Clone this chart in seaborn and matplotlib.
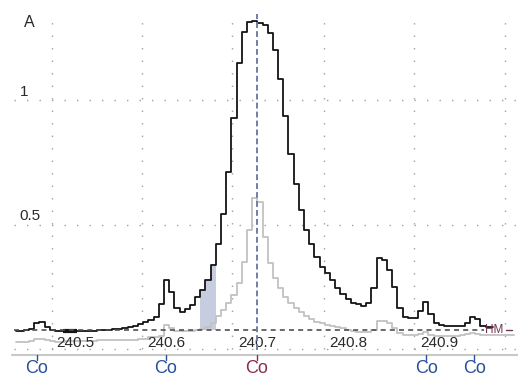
import numpy as np
import pandas as pd
import matplotlib
matplotlib.use("Agg")
import matplotlib.pyplot as plt
import seaborn as sns

# ---------------- data ----------------
wl_start = 240.4353      # centre of first detector pixel (nm)
wl_step = 0.0057         # pixel width (nm)

black_vals = [0.072, 0.072, 0.076, 0.080, 0.106, 0.108, 0.088, 0.076, 0.074, 0.074,
              0.074, 0.074, 0.072, 0.072, 0.072, 0.072, 0.076, 0.076, 0.078, 0.080,
              0.082, 0.084, 0.088, 0.092, 0.100, 0.108, 0.116, 0.129, 0.181, 0.277,
              0.229, 0.165, 0.149, 0.161, 0.177, 0.209, 0.237, 0.277, 0.337, 0.422,
              0.542, 0.711, 0.928, 1.149, 1.273, 1.313, 1.317, 1.311, 1.301, 1.269,
              1.201, 1.084, 0.936, 0.783, 0.663, 0.558, 0.478, 0.422, 0.369, 0.329,
              0.305, 0.277, 0.245, 0.221, 0.201, 0.185, 0.181, 0.173, 0.185, 0.245,
              0.365, 0.357, 0.317, 0.249, 0.165, 0.129, 0.124, 0.124, 0.153, 0.189,
              0.141, 0.104, 0.096, 0.092, 0.092, 0.092, 0.092, 0.104, 0.129, 0.120,
              0.092, 0.088, 0.088]

gray_vals = [0.029, 0.029, 0.029, 0.032, 0.040, 0.040, 0.038, 0.032, 0.028, 0.030,
             0.032, 0.032, 0.032, 0.032, 0.032, 0.032, 0.036, 0.036, 0.036, 0.036,
             0.036, 0.036, 0.036, 0.038, 0.040, 0.042, 0.048, 0.050, 0.052, 0.096,
             0.084, 0.072, 0.072, 0.072, 0.074, 0.076, 0.080, 0.088, 0.104, 0.133,
             0.157, 0.185, 0.217, 0.265, 0.349, 0.478, 0.606, 0.590, 0.450, 0.345,
             0.285, 0.245, 0.209, 0.185, 0.165, 0.149, 0.133, 0.120, 0.108, 0.104,
             0.096, 0.092, 0.088, 0.084, 0.076, 0.072, 0.068, 0.068, 0.068, 0.076,
             0.112, 0.112, 0.104, 0.084, 0.064, 0.056, 0.056, 0.056, 0.060, 0.068,
             0.056, 0.052, 0.052, 0.052, 0.052, 0.054, 0.056, 0.060, 0.064, 0.060,
             0.056, 0.056, 0.056, 0.056, 0.056, 0.056, 0.056]

hm_level = 0.076
center_wl = 240.7
shade_first_pixel, shade_last_pixel = 36, 38

tick_values = [240.5, 240.6, 240.7, 240.8, 240.9]
tick_labels = ["240.5", "240.6", "240.7", "240.8", "240.9"]

co_lines = [240.458, 240.600, 240.700, 240.886, 240.939]
co_is_main = [False, False, True, False, False]

grid_x = [240.4747, 240.5736, 240.6725, 240.7736, 240.8725, 240.9725]
grid_y = [0.0, 0.5, 1.0]

# ---------------- figure ----------------
sns.set_style("white")
plt.rcParams["font.family"] = ["Liberation Sans", "DejaVu Sans"]

fig = plt.figure(figsize=(5.18, 3.76), dpi=100)
ax = fig.add_axes([0, 0, 1, 1])

n_b = len(black_vals)
n_g = len(gray_vals)
wl_black = wl_start + wl_step * np.arange(n_b)
wl_gray = wl_start + wl_step * np.arange(n_g)
df_b = pd.DataFrame({"wl": wl_black, "A": black_vals})
df_g = pd.DataFrame({"wl": wl_gray, "A": gray_vals})

# dotted grid
for gx in grid_x:
    ax.plot([gx, gx], [0.0, 1.34], color="#a0a0a0", lw=1.0,
            linestyle=(0, (1, 8)), zorder=0)
for gy in grid_y:
    ax.plot([240.4335, 240.9868], [gy, gy], color="#a0a0a0", lw=1.0,
            linestyle=(0, (1, 8)), zorder=0)

# shaded area under the curve
edges = wl_start - wl_step / 2 + wl_step * np.arange(n_b + 1)
sel = slice(shade_first_pixel, shade_last_pixel + 2)
yy = list(black_vals[shade_first_pixel:shade_last_pixel + 1]) + [black_vals[shade_last_pixel]]
ax.fill_between(edges[sel], hm_level, yy, step="post", color="#c6cddf", lw=0, zorder=1)

# spectra
sns.lineplot(data=df_g, x="wl", y="A", drawstyle="steps-mid", color="#c2c2c2",
             lw=1.3, ax=ax, legend=False, zorder=2)
sns.lineplot(data=df_b, x="wl", y="A", drawstyle="steps-mid", color="#141414",
             lw=1.3, ax=ax, legend=False, zorder=3)

# thick marker segment on baseline
ax.plot([240.4868, 240.5022], [0.074, 0.074], color="#141414", lw=3, zorder=4,
        solid_capstyle="butt")

# HM dashed line + label
ax.plot([240.4335, 240.9495], [hm_level, hm_level], color="#505050", lw=1.2,
        linestyle=(0, (3, 2.5)), zorder=4)
ax.text(240.9510, hm_level, "HM", fontsize=8.5, color="#6e3550",
        ha="left", va="center", zorder=5)
ax.plot([240.9735, 240.9800], [hm_level, hm_level], color="#6e3550", lw=1.0, zorder=5)

# center line
ax.plot([center_wl, center_wl], [-0.004, 1.345], color="#6f7fa8", lw=1.4,
        linestyle=(0, (3, 1.6)), zorder=5)

# x tick labels
for v, lab in zip(tick_values, tick_labels):
    ax.text(v, 0.024, lab, fontsize=11, color="#2a2a2a", ha="center", va="center")

# y tick labels and unit
ax.text(240.4444, 1.032, "1", fontsize=11, color="#2a2a2a", ha="center", va="center")
ax.text(240.4510, 0.534, "0.5", fontsize=11, color="#2a2a2a", ha="center", va="center")
ax.text(240.4499, 1.313, "A", fontsize=11.5, color="#2a2a2a", ha="center", va="center")

# element line strip
ax.plot([240.4308, 240.9868], [-0.024, -0.024], color="#c8c8c8", lw=1.5, zorder=1)
for v, main in zip(co_lines, co_is_main):
    c = "#8e2b4b" if main else "#27509a"
    ax.plot([v, v], [-0.026, -0.044], color=c, lw=1.0)
    ax.text(v, -0.078, "Co", fontsize=13, color=c, ha="center", va="center")

ax.set_xlim(240.41758, 240.98681)
ax.set_ylim(-0.1084, 1.4016)
ax.axis("off")

fig.savefig("out.png", dpi=100)
